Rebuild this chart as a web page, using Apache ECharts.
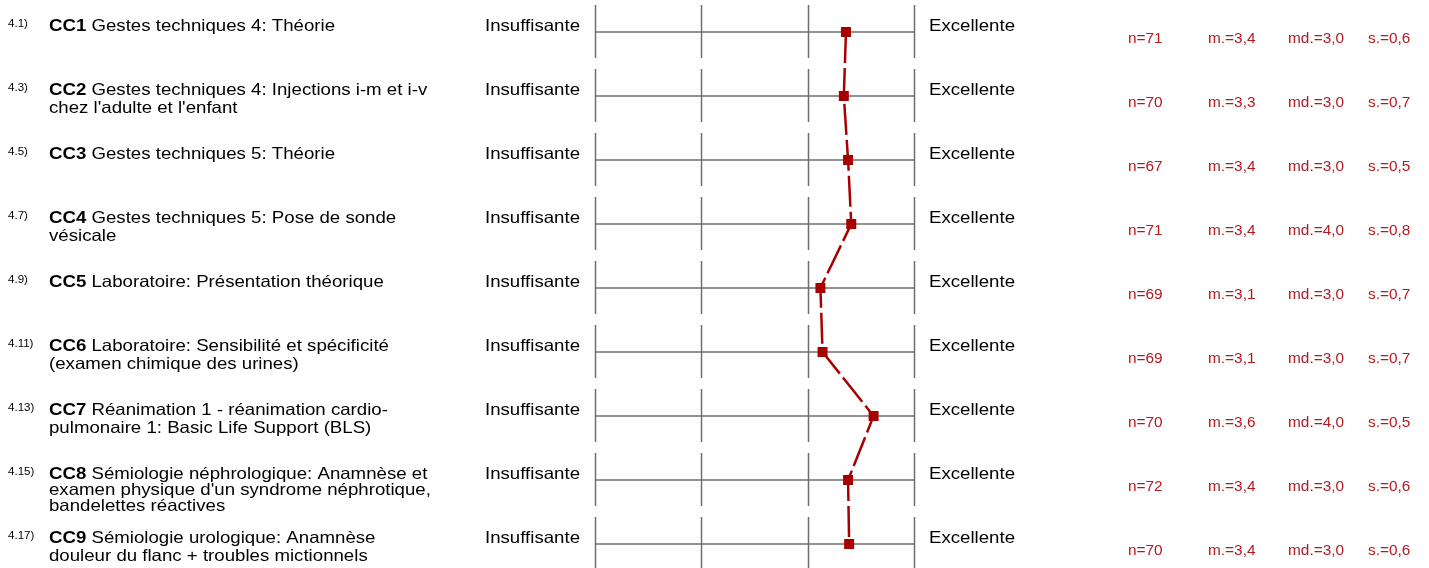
<!DOCTYPE html>
<html>
<head>
<meta charset="utf-8">
<script src="https://cdn.jsdelivr.net/npm/echarts@6/dist/echarts.min.js"></script>
<style>
  html, body { margin: 0; padding: 0; background: #fff; }
  #chart { width: 1429px; height: 568px; }
</style>
</head>
<body>
<div id="chart"></div>
<script>
// Question numbers, course codes and titles (one entry per row)
const itemNumbers = ['4.1)', '4.3)', '4.5)', '4.7)', '4.9)', '4.11)', '4.13)', '4.15)', '4.17)'];
const itemCodes = ['CC1', 'CC2', 'CC3', 'CC4', 'CC5', 'CC6', 'CC7', 'CC8', 'CC9'];
const itemTitles = [
  'Gestes techniques 4: Théorie',
  'Gestes techniques 4: Injections i-m et i-v\nchez l\'adulte et l\'enfant',
  'Gestes techniques 5: Théorie',
  'Gestes techniques 5: Pose de sonde\nvésicale',
  'Laboratoire: Présentation théorique',
  'Laboratoire: Sensibilité et spécificité\n(examen chimique des urines)',
  'Réanimation 1 - réanimation cardio-\npulmonaire 1: Basic Life Support (BLS)',
  'Sémiologie néphrologique: Anamnèse et\nexamen physique d\'un syndrome néphrotique,\nbandelettes réactives',
  'Sémiologie urologique: Anamnèse\ndouleur du flanc + troubles mictionnels'
];

// Statistics per item
const means = [3.36, 3.34, 3.38, 3.41, 3.12, 3.14, 3.62, 3.38, 3.39];
const counts = [71, 70, 67, 71, 69, 69, 70, 72, 70];
const medians = [3.0, 3.0, 3.0, 4.0, 3.0, 3.0, 4.0, 3.0, 3.0];
const stdDevs = [0.6, 0.7, 0.5, 0.8, 0.7, 0.7, 0.5, 0.6, 0.6];

// Rating scale
const scaleSteps = [1, 2, 3, 4];
const scaleLeftLabel = 'Insuffisante';
const scaleRightLabel = 'Excellente';

const FONT = '"Liberation Sans", Arial, Helvetica, sans-serif';
const TEXT_SIZE = 16.5;
const TEXT_WIDEN = 1.13;   // slightly wide lettering
const GRID_GREY = '#6e6e6e';
const STAT_RED = '#b3191e';
const PROFILE_RED = '#a80000';

const fmt = v => v.toFixed(1).replace('.', ',');

const chart = echarts.init(document.getElementById('chart'), null, { renderer: 'canvas' });

function wideText(x, y, style, widen) {
  return {
    type: 'text', x: x, y: y, scaleX: widen || TEXT_WIDEN, scaleY: 1,
    style: Object.assign({ fill: '#000', fontFamily: FONT }, style)
  };
}

function renderRow(params, api) {
  const row = api.value(1);
  const left = api.coord([scaleSteps[0], row]);
  const right = api.coord([scaleSteps[scaleSteps.length - 1], row]);
  const y = left[1];
  const children = [];

  // horizontal scale line
  children.push({
    type: 'line',
    shape: { x1: left[0], y1: y, x2: right[0], y2: y },
    style: { stroke: GRID_GREY, lineWidth: 1.5 }
  });
  // vertical step ticks
  scaleSteps.forEach(s => {
    const x = Math.round(api.coord([s, row])[0]) + 0.5;
    children.push({
      type: 'line',
      shape: { x1: x, y1: y - 27, x2: x, y2: y + 26 },
      style: { stroke: GRID_GREY, lineWidth: 1.5 }
    });
  });
  // pole labels
  children.push(wideText(left[0] - 15, y - 5.6,
    { text: scaleLeftLabel, fontSize: TEXT_SIZE, align: 'right', verticalAlign: 'middle' }));
  children.push(wideText(right[0] + 15, y - 5.6,
    { text: scaleRightLabel, fontSize: TEXT_SIZE, align: 'left', verticalAlign: 'middle' }));
  // item number
  children.push(wideText(8, y - 7.5,
    { text: itemNumbers[row], fontSize: 10.5, align: 'left', verticalAlign: 'middle' }, 1.1));
  // item code + title
  const nLines = itemTitles[row].split('\n').length;
  const lh = nLines >= 3 ? 16 : 18.5;
  children.push(wideText(49, y - 6 - lh / 2, {
    text: '{b|' + itemCodes[row] + '} ' + itemTitles[row],
    fontSize: TEXT_SIZE, lineHeight: lh,
    align: 'left', verticalAlign: 'top',
    rich: {
      b: { fontWeight: 'bold', fontSize: TEXT_SIZE, fontFamily: FONT, fill: '#000', lineHeight: lh }
    }
  }));
  // statistics
  const stats = [
    ['n=' + counts[row], 1128],
    ['m.=' + fmt(means[row]), 1208],
    ['md.=' + fmt(medians[row]), 1288],
    ['s.=' + fmt(stdDevs[row]), 1368]
  ];
  stats.forEach(([t, x]) => {
    children.push(wideText(x, y + 7,
      { text: t, fill: STAT_RED, fontSize: 14, align: 'left', verticalAlign: 'middle' }, 1.1));
  });
  return { type: 'group', children };
}

chart.setOption({
  animation: false,
  backgroundColor: '#fff',
  grid: { left: 595, width: 319, top: 32, height: 512 },
  xAxis: { type: 'value', min: 1, max: 4, show: false },
  yAxis: { type: 'value', min: 0, max: 8, inverse: true, show: false },
  series: [
    {
      type: 'custom',
      renderItem: renderRow,
      encode: { x: 0, y: 1 },
      data: itemCodes.map((_, i) => [1, i]),
      silent: true,
      z: 1
    },
    {
      type: 'line',
      data: means.map((m, i) => [m, i]),
      symbol: 'rect',
      symbolSize: 10,
      itemStyle: { color: PROFILE_RED },
      lineStyle: { color: PROFILE_RED, width: 2.5, type: [31, 5] },
      silent: true,
      z: 5
    }
  ]
});
</script>
</body>
</html>
